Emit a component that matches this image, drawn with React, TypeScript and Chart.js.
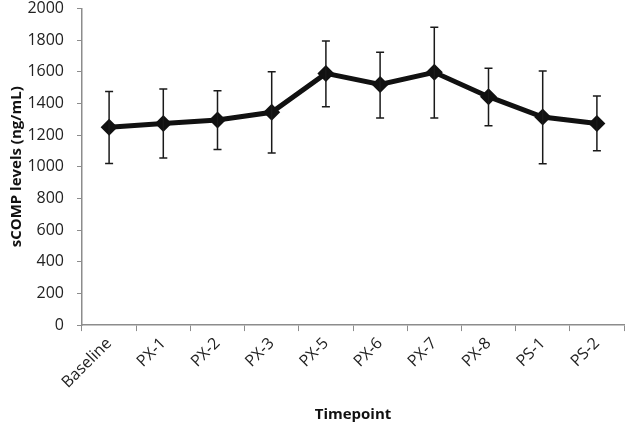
import React, { useEffect, useRef } from "react";
import { Chart, registerables } from "chart.js";

Chart.register(...registerables);

const categories = ["Baseline", "PX-1", "PX-2", "PX-3", "PX-5", "PX-6", "PX-7", "PX-8", "PS-1", "PS-2"];
const means = [1250, 1274, 1295, 1344, 1590, 1520, 1597, 1443, 1314, 1274];
const errUpper = [1476, 1492, 1481, 1601, 1795, 1723, 1882, 1623, 1605, 1447];
const errLower = [1021, 1055, 1110, 1087, 1380, 1308, 1308, 1259, 1019, 1101];
const yTicks = [0, 200, 400, 600, 800, 1000, 1200, 1400, 1600, 1800, 2000];

const FONT = "'Open Sans', 'Liberation Sans', sans-serif";

const errorBarPlugin = {
  id: "errorBars",
  afterDatasetsDraw(chart: any) {
    const ctx = chart.ctx;
    const xs = chart.scales.x;
    const ys = chart.scales.y;
    ctx.save();
    ctx.strokeStyle = "#1a1a1a";
    ctx.lineWidth = 1.5;
    categories.forEach((_, i) => {
      const x = xs.getPixelForValue(i);
      const yt = ys.getPixelForValue(errUpper[i]);
      const yb = ys.getPixelForValue(errLower[i]);
      ctx.beginPath();
      ctx.moveTo(x, yt);
      ctx.lineTo(x, yb);
      ctx.moveTo(x - 4, yt);
      ctx.lineTo(x + 4, yt);
      ctx.moveTo(x - 4, yb);
      ctx.lineTo(x + 4, yb);
      ctx.stroke();
    });
    ctx.restore();
  },
};

export default function App() {
  const ref = useRef<HTMLCanvasElement | null>(null);
  useEffect(() => {
    if (!ref.current) return;
    const chart = new Chart(ref.current, {
      type: "line",
      data: {
        labels: categories,
        datasets: [
          {
            data: means,
            borderColor: "#111",
            backgroundColor: "#111",
            borderWidth: 5,
            pointStyle: "rectRot",
            pointRadius: 8.5,
            pointBorderWidth: 0,
            pointBackgroundColor: "#111",
            tension: 0,
          },
        ],
      },
      options: {
        animation: false,
        responsive: false,
        maintainAspectRatio: false,
        layout: { padding: { top: 8, right: 12, left: 8, bottom: 2 } },
        plugins: { legend: { display: false }, tooltip: { enabled: false } },
        scales: {
          x: {
            offset: true,
            afterFit: (axis: any) => {
              axis.paddingLeft = 0;
              axis.paddingRight = 0;
            },
            grid: {
              display: true,
              offset: true,
              drawOnChartArea: false,
              drawTicks: true,
              tickLength: 6,
              color: "#8c8c8c",
            },
            border: { display: true, color: "#8c8c8c", width: 1.5 },
            ticks: {
              color: "#222",
              font: { family: FONT, size: 16 },
              maxRotation: 45,
              minRotation: 45,
              padding: 3,
            },
            title: {
              display: true,
              text: "Timepoint",
              color: "#111",
              font: { family: FONT, size: 15, weight: "bold" },
              padding: { top: 11, bottom: 0 },
            },
          },
          y: {
            min: 0,
            max: 2000,
            afterBuildTicks: (axis: any) => {
              axis.ticks = yTicks.map((v) => ({ value: v }));
            },
            afterFit: (axis: any) => {
              axis.paddingTop = 0;
              axis.paddingBottom = 0;
              axis.width = 74;
            },
            grid: {
              display: true,
              drawOnChartArea: false,
              drawTicks: true,
              tickLength: 5,
              color: "#8c8c8c",
            },
            border: { display: true, color: "#8c8c8c", width: 1.5 },
            ticks: {
              color: "#222",
              font: { family: FONT, size: 16 },
              padding: 13,
              callback: (v: any) => String(v),
            },
            title: {
              display: true,
              text: "sCOMP levels (ng/mL)",
              color: "#111",
              font: { family: FONT, size: 15, weight: "bold" },
              padding: { top: 0, bottom: 2 },
            },
          },
        },
      },
      plugins: [errorBarPlugin],
    } as any);
    return () => chart.destroy();
  }, []);
  return (
    <div style={{ position: "fixed", left: 0, top: 0, width: 636, height: 426, background: "#fff" }}>
      <canvas ref={ref} width={636} height={426} style={{ display: "block" }} />
    </div>
  );
}
